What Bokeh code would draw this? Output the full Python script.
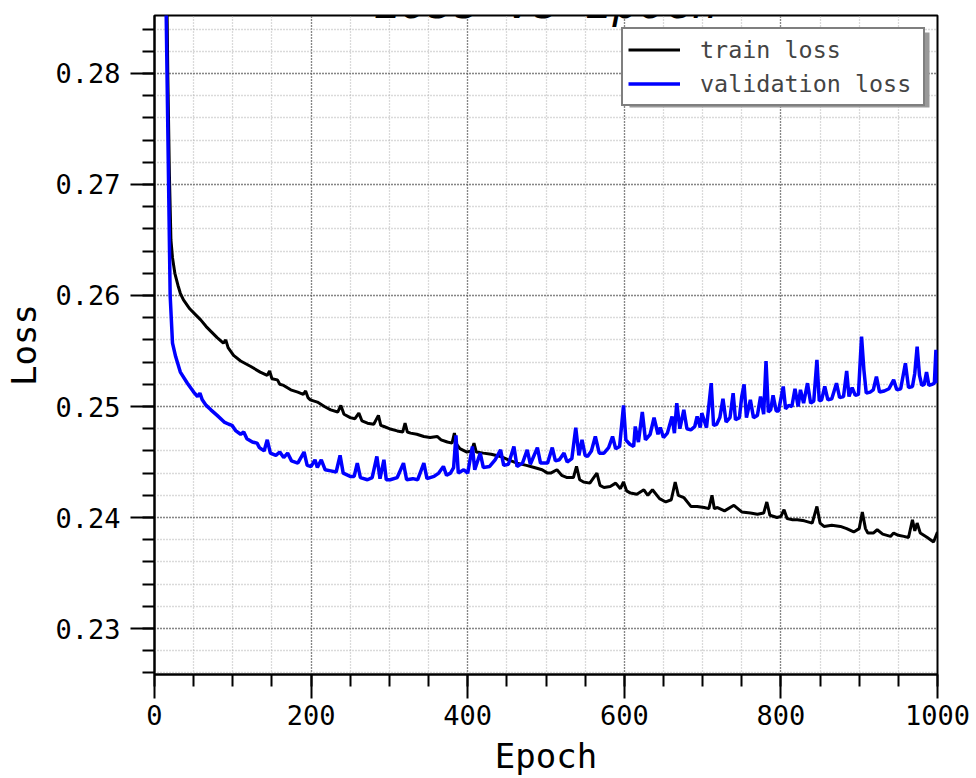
from bokeh.plotting import figure
from bokeh.models import (SingleIntervalTicker, PrintfTickFormatter, Range1d,
                          BoxAnnotation, Label, Legend)
from bokeh.embed import file_html
from bokeh.resources import INLINE

# ---------------- data ----------------
train_epoch = [1, 10, 15, 17, 19, 21, 23, 26, 30, 33, 37, 45, 52, 59, 66, 73, 80, 88, 91, 94,
               101, 110, 123, 135, 144, 147, 150, 157, 160, 165, 174, 183, 190, 193, 196, 199,
               208, 217, 225, 234, 238, 242, 250, 256, 261, 265, 272, 280, 286, 289, 293, 300,
               310, 317, 320, 323, 327, 335, 344, 352, 361, 366, 374, 380, 383, 386, 390, 399,
               405, 408, 411, 420, 430, 442, 452, 463, 475, 485, 495, 502, 506, 514, 520, 527,
               535, 539, 543, 548, 556, 565, 569, 574, 582, 589, 595, 599, 603, 608, 616, 625,
               630, 636, 645, 653, 660, 665, 669, 676, 685, 693, 702, 708, 712, 715, 719, 728,
               740, 750, 761, 770, 778, 782, 786, 795, 800, 804, 808, 815, 821, 830, 840, 846,
               850, 855, 865, 876, 884, 893, 900, 904, 908, 911, 918, 923, 930, 940, 944, 950,
               957, 963, 968, 971, 974, 978, 987, 995, 1000]
train_loss = [0.340, 0.310, 0.292, 0.280, 0.271, 0.2650, 0.2634, 0.2620, 0.2609, 0.2602, 0.2596,
              0.2588, 0.2583, 0.2578, 0.2572, 0.2567, 0.2562, 0.2557, 0.2560, 0.2553,
              0.2546, 0.2541, 0.2536, 0.2531, 0.2528, 0.2532, 0.2525, 0.2524, 0.2520, 0.2519,
              0.2515, 0.2513, 0.2511, 0.2514, 0.2508, 0.2506,
              0.2504, 0.2500, 0.2497, 0.2495, 0.2501, 0.2493, 0.2490, 0.2489, 0.2494, 0.2487,
              0.2485, 0.2484, 0.2492, 0.2483, 0.2482, 0.2480,
              0.2478, 0.2477, 0.2485, 0.2477, 0.2476, 0.2475, 0.2473, 0.2472, 0.2473, 0.2470,
              0.2468, 0.2467, 0.2476, 0.2466, 0.2462, 0.2459,
              0.2460, 0.2467, 0.2459, 0.2458, 0.2457, 0.2455, 0.2452, 0.2449, 0.2447, 0.2445,
              0.2443, 0.2440, 0.2440, 0.2443, 0.2438, 0.2436,
              0.2436, 0.2446, 0.2434, 0.2432, 0.2431, 0.2440, 0.2429, 0.2427, 0.2428, 0.2431,
              0.2426, 0.2432, 0.2424, 0.2422, 0.2421, 0.2425,
              0.2420, 0.2425, 0.2417, 0.2414, 0.2416, 0.2432, 0.2420, 0.2418, 0.2410, 0.2410,
              0.2409, 0.2408, 0.2420, 0.2408, 0.2409, 0.2406,
              0.2411, 0.2405, 0.2404, 0.2403, 0.2404, 0.2414, 0.2402, 0.2400, 0.2401, 0.2407,
              0.2399, 0.2398, 0.2398, 0.2397, 0.2395, 0.2410,
              0.2395, 0.2392, 0.2393, 0.2392, 0.2390, 0.2387, 0.2390, 0.2405, 0.2390, 0.2386,
              0.2386, 0.2389, 0.2385, 0.2383, 0.2386, 0.2384,
              0.2383, 0.2382, 0.2398, 0.2388, 0.2395, 0.2386, 0.2382, 0.2378, 0.2387]

val_epoch = [1, 10, 14, 16, 18, 20, 23, 27, 33, 42, 50, 55, 58, 61, 66, 72, 80, 89, 95, 99,
             104, 110, 114, 118, 125, 131, 134, 140, 144, 148, 155, 160, 165, 170, 175, 183,
             191, 195, 200, 205, 208, 213, 218, 225, 232, 237, 241, 250, 255, 259, 263, 272,
             278, 284, 288, 293, 296, 301, 310, 318, 322, 330, 336, 344, 348, 357, 363, 369,
             373, 378, 382, 385, 388, 395, 400, 406, 409, 416, 420, 428, 435, 442, 446, 452,
             459, 463, 470, 476, 480, 489, 493, 502, 508, 512, 517, 523, 527, 533, 538, 542,
             546, 550, 553, 558, 563, 568, 574, 580, 585, 589, 594, 599, 602, 607, 612, 614,
             618, 623, 627, 633, 638, 643, 646, 650, 655, 661, 664, 667, 671, 676, 680, 685,
             690, 693, 697, 699, 705, 711, 714, 718, 722, 726, 730, 735, 739, 742, 747, 750,
             753, 756, 761, 765, 770, 774, 778, 781, 784, 787, 790, 794, 797, 803, 806, 810,
             814, 818, 822, 825, 829, 834, 838, 842, 846, 849, 852, 856, 860, 865, 871, 875,
             880, 884, 887, 891, 895, 899, 903, 906, 909, 914, 918, 922, 926, 932, 938, 944,
             948, 953, 959, 963, 968, 971, 974, 977, 980, 983, 986, 989, 993, 996, 998, 1000]
val_loss = [0.330, 0.305, 0.290, 0.280, 0.270, 0.2600, 0.2557, 0.2545, 0.2531, 0.2521, 0.2513,
            0.2509, 0.2512, 0.2506, 0.2501, 0.2497, 0.2492, 0.2486, 0.2484, 0.2483,
            0.2478, 0.2475, 0.2477, 0.2471, 0.2468, 0.2467, 0.2463, 0.2460, 0.2470, 0.2458,
            0.2456, 0.2459, 0.2454, 0.2458, 0.2451, 0.2449,
            0.2459, 0.2447, 0.2446, 0.2452, 0.2445, 0.2452, 0.2443, 0.2442, 0.2441, 0.2456,
            0.2440, 0.2437, 0.2437, 0.2449, 0.2436, 0.2434,
            0.2436, 0.2455, 0.2435, 0.2452, 0.2434, 0.2434, 0.2436, 0.2449, 0.2434, 0.2435,
            0.2434, 0.2449, 0.2435, 0.2437, 0.2440, 0.2446,
            0.2438, 0.2440, 0.2445, 0.2474, 0.2440, 0.2443, 0.2440, 0.2464, 0.2443, 0.2458,
            0.2445, 0.2446, 0.2452, 0.2461, 0.2447, 0.2448,
            0.2464, 0.2446, 0.2449, 0.2461, 0.2448, 0.2463, 0.2449, 0.2449, 0.2463, 0.2451,
            0.2452, 0.2458, 0.2450, 0.2453, 0.2481, 0.2456,
            0.2470, 0.2456, 0.2455, 0.2460, 0.2473, 0.2458, 0.2458, 0.2463, 0.2473, 0.2462,
            0.2464, 0.2501, 0.2470, 0.2466, 0.2464, 0.2482,
            0.2468, 0.2495, 0.2470, 0.2475, 0.2490, 0.2475, 0.2481, 0.2472, 0.2476, 0.2491,
            0.2476, 0.2503, 0.2480, 0.2497, 0.2480, 0.2479,
            0.2482, 0.2491, 0.2481, 0.2494, 0.2481, 0.2521, 0.2483, 0.2484, 0.2490, 0.2507,
            0.2486, 0.2490, 0.2512, 0.2488, 0.2490, 0.2509,
            0.2520, 0.2490, 0.2506, 0.2490, 0.2492, 0.2509, 0.2493, 0.2541, 0.2495, 0.2497,
            0.2510, 0.2496, 0.2496, 0.2518, 0.2498, 0.2501,
            0.2500, 0.2516, 0.2500, 0.2515, 0.2503, 0.2521, 0.2503, 0.2505, 0.2542, 0.2505,
            0.2506, 0.2518, 0.2506, 0.2507, 0.2521, 0.2508,
            0.2509, 0.2532, 0.2509, 0.2517, 0.2510, 0.2511, 0.2563, 0.2533, 0.2512, 0.2513,
            0.2515, 0.2527, 0.2513, 0.2514, 0.2516, 0.2524,
            0.2515, 0.2516, 0.2539, 0.2517, 0.2518, 0.2530, 0.2554, 0.2528, 0.2519, 0.2520,
            0.2531, 0.2519, 0.2520, 0.2521, 0.2551, 0.2521]

series_names = ["train loss", "validation loss"]
title_text = "Loss vs Epoch"
x_label = "Epoch"
y_label = "Loss"
x_limits = (0, 1000)
y_limits = (0.22586, 0.28522)

MONO = "DejaVu Sans Mono"

p = figure(width=976, height=778, output_backend="svg", toolbar_location=None,
           x_range=Range1d(*x_limits), y_range=Range1d(*y_limits),
           min_border_left=154, min_border_right=39, min_border_top=15, min_border_bottom=103)
p.background_fill_color = "white"
p.border_fill_color = "white"
p.outline_line_color = "black"
p.outline_line_width = 2

# axes
p.xaxis.ticker = SingleIntervalTicker(interval=200, num_minor_ticks=4)
p.yaxis.ticker = SingleIntervalTicker(interval=0.01, num_minor_ticks=5)
p.yaxis.formatter = PrintfTickFormatter(format="%.2f")
for ax in (p.xaxis[0], p.yaxis[0]):
    ax.axis_line_width = 2
    ax.axis_line_color = "black"
    ax.major_tick_line_width = 2
    ax.minor_tick_line_width = 2
    ax.major_tick_line_color = "black"
    ax.minor_tick_line_color = "black"
    ax.major_tick_in = 0
    ax.major_tick_out = 24
    ax.minor_tick_in = 0
    ax.minor_tick_out = 12
    ax.major_label_text_font = MONO
    ax.major_label_text_font_size = "27px"
    ax.major_label_text_color = "black"
    ax.axis_label_text_font = MONO
    ax.axis_label_text_font_size = "34px"
    ax.axis_label_text_font_style = "normal"
    ax.axis_label_text_color = "black"
p.xaxis.axis_label = x_label
p.yaxis.axis_label = y_label
p.xaxis.major_label_standoff = 6
p.yaxis.major_label_standoff = 10
p.xaxis.axis_label_standoff = 8
p.yaxis.axis_label_standoff = 8

# grids
for g in (p.xgrid[0], p.ygrid[0]):
    g.grid_line_color = "#333333"
    g.grid_line_width = 1.3
    g.grid_line_dash = "1 2"
    g.minor_grid_line_color = "#b5b5b5"
    g.minor_grid_line_width = 1.3
    g.minor_grid_line_dash = "1 2"

# legend shadow (decoration behind legend box)
shadow = BoxAnnotation(left=606.6, right=989.8, top=0.28369, bottom=0.27694,
                       fill_color="#999999", fill_alpha=1.0, line_alpha=0,
                       level="annotation")
p.add_layout(shadow)

r1 = p.line(train_epoch, train_loss, line_color="black", line_width=3)
r2 = p.line(val_epoch, val_loss, line_color="#0000ff", line_width=3.5)

legend = Legend(items=[(series_names[0], [r1]), (series_names[1], [r2])],
                location="top_right")
legend.border_line_color = "black"
legend.border_line_width = 2
legend.background_fill_color = "white"
legend.background_fill_alpha = 1.0
legend.label_text_font = MONO
legend.label_text_font_size = "23.4px"
legend.glyph_width = 52
legend.glyph_height = 31
legend.label_height = 31
legend.label_width = 218
legend.label_standoff = 20
legend.spacing = 3
legend.padding = 5
legend.margin = 12
p.add_layout(legend)

# title (cut off at top, as in the reference)
title = Label(x=500, y=0.28635, text=title_text, text_align="center",
              text_baseline="alphabetic", text_font=MONO, text_font_style="italic",
              text_font_size="44px", text_color="black")
p.add_layout(title)

# fragments of neighbouring labels visible at the edges of the reference
frag_left = Label(x=-195.4, y=0.22182, text="0", text_align="center",
                  text_baseline="middle", text_font=MONO, text_font_size="27px",
                  text_color="black")
p.add_layout(frag_left)
frag_right = Label(x=1039.6, y=0.21633, text="2", text_align="center",
                   text_baseline="middle", text_font=MONO, text_font_size="27px",
                   text_color="black")
p.add_layout(frag_right)

open("out.html", "w").write(file_html(p, INLINE))
